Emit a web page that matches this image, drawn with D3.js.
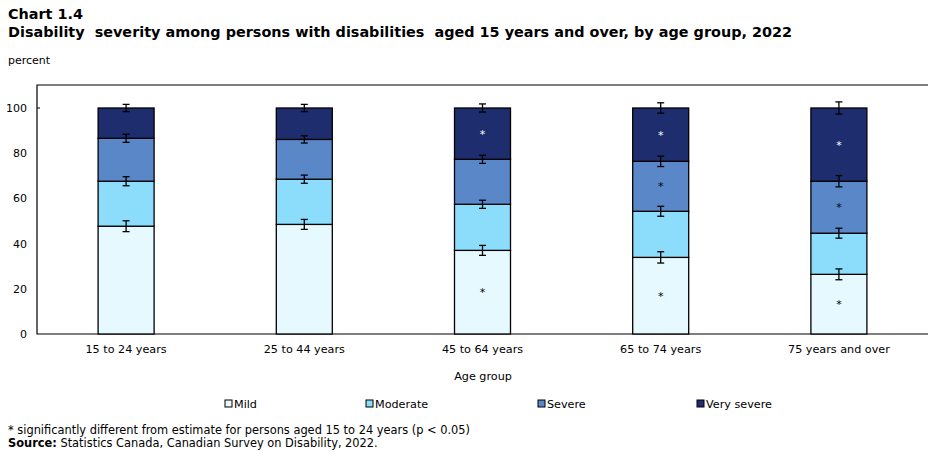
<!DOCTYPE html>
<html>
<head>
<meta charset="utf-8">
<script src="https://cdn.jsdelivr.net/npm/d3@7"></script>
<style>
  body { margin: 0; background: #fff; }
  svg { font-family: "DejaVu Sans", Verdana, sans-serif; }
  text { white-space: pre; }
</style>
</head>
<body>
<svg id="chart" width="945" height="454"></svg>
<script>
const categories = ['15 to 24 years', '25 to 44 years', '45 to 64 years', '65 to 74 years', '75 years and over'];
const seriesNames = ['Mild', 'Moderate', 'Severe', 'Very severe'];
const colors = ['#e5f9ff', '#8cdcfc', '#5987c8', '#1e2d6e'];

// percent for each series, one value per age group
const mild = [47.7, 48.5, 37.0, 33.9, 26.4];
const moderate = [19.9, 20.0, 20.4, 20.4, 18.2];
const severe = [19.0, 17.6, 19.9, 22.1, 23.0];
const verySevere = [13.4, 13.9, 22.7, 23.6, 32.4];

// half width of the confidence interval
const mildErr = [2.4, 2.2, 2.2, 2.5, 2.4];
const moderateErr = [2.0, 1.8, 1.8, 2.2, 2.2];
const severeErr = [1.8, 1.6, 1.8, 2.3, 2.5];
const verySevereErr = [1.6, 1.6, 1.8, 2.3, 2.7];

// significance flags (*)
const mildSig = [false, false, true, true, true];
const moderateSig = [false, false, false, false, false];
const severeSig = [false, false, false, true, true];
const verySevereSig = [false, false, true, true, true];

const yTicks = [0, 20, 40, 60, 80, 100];

const values = [mild, moderate, severe, verySevere];
const errors = [mildErr, moderateErr, severeErr, verySevereErr];
const sigs = [mildSig, moderateSig, severeSig, verySevereSig];

const svg = d3.select('#chart');

// titles
svg.append('text').attr('x', 8).attr('y', 19)
    .style('font-size', '14.4px').style('font-weight', 'bold').text('Chart 1.4');
svg.append('text').attr('x', 8).attr('y', 37)
    .style('font-size', '14.4px').style('font-weight', 'bold').attr('textLength', 784)
    .text('Disability  severity among persons with disabilities  aged 15 years and over, by age group, 2022');
svg.append('text').attr('x', 8).attr('y', 64).style('font-size', '11px').text('percent');

const plotLeft = 37, plotRight = 928, plotTop = 85, plotBottom = 334;

const x = d3.scaleBand().domain(categories).range([plotLeft, plotRight]);
const y = d3.scaleLinear().domain([0, 100]).range([plotBottom, 108]);
const barW = 56;

// frame: top, left and bottom lines
svg.append('path')
    .attr('d', `M${plotRight},${plotTop}H${plotLeft}V${plotBottom}H${plotRight}`)
    .attr('fill', 'none').attr('stroke', '#000').attr('stroke-width', 1.2);

// y axis labels
svg.append('g').selectAll('text').data(yTicks).join('text')
    .attr('x', 27).attr('y', d => y(d) + 4)
    .attr('text-anchor', 'end').style('font-size', '11px')
    .text(d => d);
svg.append('line').attr('x1', plotLeft).attr('x2', plotLeft + 3)
    .attr('y1', y(100)).attr('y2', y(100)).attr('stroke', '#000');

// stack
const rows = categories.map((c, i) => {
    const r = { cat: c };
    seriesNames.forEach((s, k) => { r[s] = values[k][i]; });
    return r;
});
const stacked = d3.stack().keys(seriesNames)(rows);

const gBars = svg.append('g');
stacked.forEach((layer, k) => {
    gBars.selectAll(null).data(layer).join('rect')
        .attr('x', d => x(d.data.cat) + x.bandwidth() / 2 - barW / 2)
        .attr('width', barW)
        .attr('y', d => y(d[1]))
        .attr('height', d => y(d[0]) - y(d[1]))
        .attr('fill', colors[k])
        .attr('stroke', '#000').attr('stroke-width', 1.3);
});

// error bars at the top of each segment
stacked.forEach((layer, k) => {
    layer.forEach((d, i) => {
        const cx = x(d.data.cat) + x.bandwidth() / 2;
        const e = errors[k][i];
        const y1 = y(d[1] + e), y2 = y(d[1] - e);
        const g = svg.append('g').attr('stroke', '#000').attr('stroke-width', 1.3);
        g.append('line').attr('x1', cx).attr('x2', cx).attr('y1', y1).attr('y2', y2);
        g.append('line').attr('x1', cx - 3.5).attr('x2', cx + 3.5).attr('y1', y1).attr('y2', y1);
        g.append('line').attr('x1', cx - 3.5).attr('x2', cx + 3.5).attr('y1', y2).attr('y2', y2);
    });
});

// significance markers
stacked.forEach((layer, k) => {
    layer.forEach((d, i) => {
        if (!sigs[k][i]) return;
        svg.append('text')
            .attr('x', x(d.data.cat) + x.bandwidth() / 2)
            .attr('y', y((d[0] + d[1]) / 2) + 4)
            .attr('text-anchor', 'middle')
            .style('font-size', '11px')
            .attr('fill', k === 3 ? '#fff' : '#000')
            .text('*');
    });
});

// x axis labels
svg.append('g').selectAll('text').data(categories).join('text')
    .attr('x', d => x(d) + x.bandwidth() / 2).attr('y', 353)
    .attr('text-anchor', 'middle').style('font-size', '11.2px')
    .text(d => d);
svg.append('text').attr('x', 483).attr('y', 380)
    .attr('text-anchor', 'middle').style('font-size', '11.2px').text('Age group');

// legend
const legendX = [225, 366, 538, 697];
const lg = svg.append('g').selectAll('g').data(seriesNames).join('g')
    .attr('transform', (d, i) => `translate(${legendX[i]},400)`);
lg.append('rect').attr('width', 7).attr('height', 7).attr('y', 0)
    .attr('fill', (d, i) => colors[i]).attr('stroke', '#000').attr('stroke-width', 1);
lg.append('text').attr('x', 9).attr('y', 8).style('font-size', '11.2px').text(d => d);

// notes
svg.append('text').attr('x', 8).attr('y', 434).style('font-size', '11.4px')
    .text('* significantly different from estimate for persons aged 15 to 24 years (p < 0.05)');
const src = svg.append('text').attr('x', 8).attr('y', 447).style('font-size', '11.4px');
src.append('tspan').style('font-weight', 'bold').text('Source:');
src.append('tspan').text(' Statistics Canada, Canadian Survey on Disability, 2022.');
</script>
</body>
</html>
